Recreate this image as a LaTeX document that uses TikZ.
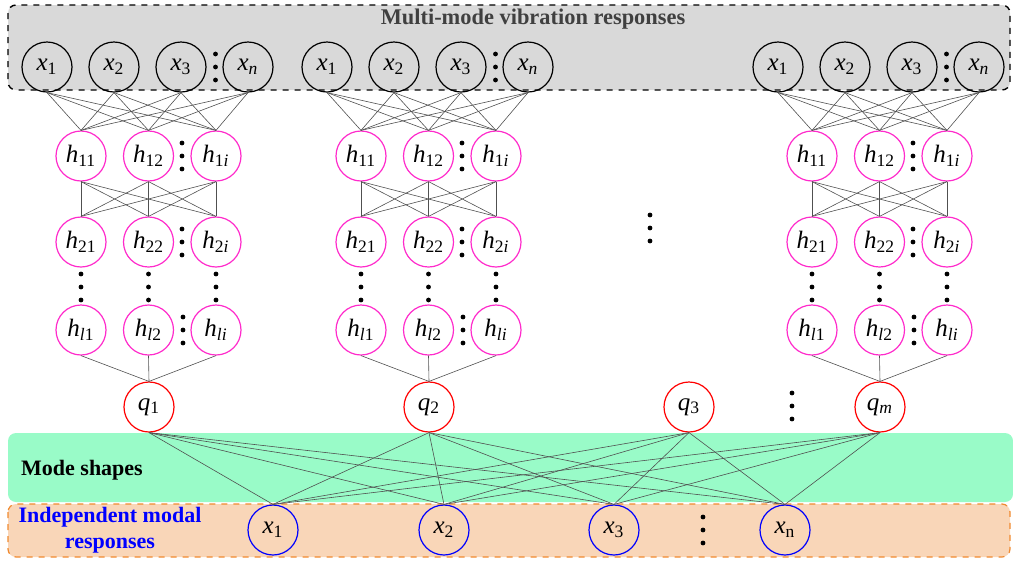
\documentclass[tikz,border=0pt]{standalone}
\usepackage{fontspec}
\setmainfont{Liberation Serif}
\usetikzlibrary{positioning}

\definecolor{boxgray}{HTML}{D9D9D9}
\definecolor{titlegray}{HTML}{404040}
\definecolor{modegreen}{HTML}{99FBC8}
\definecolor{respfill}{HTML}{F9D6B8}
\definecolor{respline}{HTML}{F08A30}
\definecolor{hidmag}{HTML}{FF2BCB}
\definecolor{linkgray}{HTML}{505050}

\newcommand{\mvar}[2]{\textit{#1}\textsubscript{#2}}

\begin{document}
\begin{tikzpicture}[x=0.5pt, y=-0.5pt,
  neuron/.style={circle, draw, line width=0.6pt, minimum size=25pt, inner sep=0pt,
    font=\fontsize{12.5}{14}\selectfont},
  xin/.style={neuron, draw=black},
  hid/.style={neuron, draw=hidmag},
  modal/.style={neuron, draw=red},
  xout/.style={neuron, draw=blue},
  link/.style={draw=linkgray, line width=0.3pt},
  band/.style={rounded corners=4pt},
  bigdot/.style={fill=black}]
  \useasboundingbox (0,0) rectangle (1013,564);

  % background bands
  \draw[band, fill=boxgray, dashed, line width=0.7pt] (8,5) rectangle (1010,90);
  \fill[band, modegreen] (8,433) rectangle (1013,502);
  \draw[band, fill=respfill, draw=respline, dashed, line width=0.6pt] (8,504) rectangle (1010,557);

  \node[font=\bfseries\fontsize{11.2}{13}\selectfont, text=titlegray] (title) at (533,19) {Multi-mode vibration responses};
  \node[font=\bfseries\fontsize{11}{13}\selectfont] (shapes) at (82,470) {Mode shapes};
  \node[font=\bfseries\fontsize{11}{13}\selectfont, text=blue, align=center] (indep) at (110,530)
    {Independent modal\\responses};

  % modal coordinates
  \foreach \i/\qx/\ql in {1/149/1, 2/429/2, 3/689/3, 4/880/\textit{m}}
    \node[modal] (q\i) at (\qx,407) {\mvar{q}{\ql}};

  % independent modal responses
  \foreach \i/\bx/\bl in {1/273/1, 2/444/2, 3/614/3, 4/785/n}
    \node[xout] (b\i) at (\bx,530) {\mvar{x}{\bl}};

  % one network per mode
  \foreach \g/\gx/\gq in {1/47/1, 2/327/2, 3/778/4} {
    \foreach \k/\kl in {1/1, 2/2, 3/3, 4/\textit{n}}
      \node[xin] (t\g\k) at ({\gx+67*(\k-1)},67) {\mvar{x}{\kl}};
    \foreach \r/\ry/\rl in {1/156/1, 2/242/2, 3/330/\textit{l}}
      \foreach \k/\kl in {1/1, 2/2, 3/\textit{i}}
        \node[hid] (h\g\r\k) at ({\gx+34+67.5*(\k-1)},\ry) {\mvar{h}{\rl\kl}};

    \foreach \a in {1,...,4}
      \foreach \b in {1,2,3}
        \draw[link] (t\g\a.south) -- (h\g1\b.north);
    \foreach \a in {1,2,3} {
      \foreach \b in {1,2,3}
        \draw[link] (h\g1\a.south) -- (h\g2\b.north);
      \draw[link] (h\g3\a.south) -- (q\gq.north);
    }

    % dots
    \foreach \dy in {-13,0,13} {
      \fill[bigdot] ({\gx+168.5},{67+\dy}) circle (1.2pt);
      \fill[bigdot] ({\gx+135},{156+\dy}) circle (1.2pt);
      \fill[bigdot] ({\gx+135},{242+\dy}) circle (1.2pt);
      \fill[bigdot] ({\gx+136},{330+\dy}) circle (1.2pt);
      \foreach \k in {1,2,3}
        \fill[bigdot] ({\gx+34+67.5*(\k-1)},{287+\dy}) circle (1.2pt);
    }
  }

  \foreach \a in {1,...,4}
    \foreach \b in {1,...,4}
      \draw[link] (q\a.south) -- (b\b.north);

  \foreach \dy in {-13,0,13} {
    \fill[bigdot] (650,{228+\dy}) circle (1.2pt);
    \fill[bigdot] (792,{406+\dy}) circle (1.2pt);
    \fill[bigdot] (703,{530+\dy}) circle (1.2pt);
  }
\end{tikzpicture}
\end{document}
